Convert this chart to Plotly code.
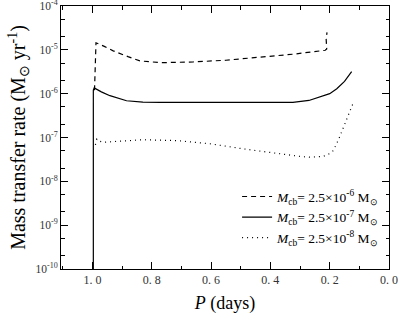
import plotly.graph_objects as go

# data (P in days, mass transfer rate in Msun/yr)
dash_P = [0.993, 0.988, 0.96, 0.93, 0.88, 0.84, 0.77, 0.66, 0.55, 0.435, 0.32, 0.215, 0.210, 0.212, 0.209]
dash_R = [1.2e-6, 1.45e-5, 1.2e-5, 9.5e-6, 7.0e-6, 5.6e-6, 5.1e-6, 5.3e-6, 5.8e-6, 6.7e-6, 8.0e-6, 9.8e-6, 1.05e-5, 1.8e-5, 2.5e-5]

solid_P = [0.997, 0.997, 0.994, 0.97, 0.941, 0.885, 0.83, 0.772, 0.5, 0.324, 0.27, 0.233, 0.2, 0.176, 0.15, 0.126]
solid_R = [1e-10, 1.2e-6, 1.35e-6, 1.1e-6, 9e-7, 6.9e-7, 6.4e-7, 6.3e-7, 6.3e-7, 6.3e-7, 7e-7, 8.3e-7, 1.0e-6, 1.3e-6, 1.9e-6, 3.2e-6]

dot_P = [0.99, 0.985, 0.975, 0.964, 0.9, 0.829, 0.716, 0.604, 0.491, 0.379, 0.3, 0.266, 0.222, 0.2, 0.188, 0.17, 0.154, 0.135, 0.12]
dot_R = [6.8e-8, 9.2e-8, 8.2e-8, 7.8e-8, 8.3e-8, 8.9e-8, 8.5e-8, 7.2e-8, 5.5e-8, 4.3e-8, 3.7e-8, 3.55e-8, 3.7e-8, 4.3e-8, 5.0e-8, 9e-8, 1.7e-7, 3.3e-7, 6.3e-7]

names = [
    "<i>M</i><sub>cb</sub>= 2.5×10<sup>-6</sup> M<sub>⊙</sub>",
    "<i>M</i><sub>cb</sub>= 2.5×10<sup>-7</sup> M<sub>⊙</sub>",
    "<i>M</i><sub>cb</sub>= 2.5×10<sup>-8</sup> M<sub>⊙</sub>",
]

x_tickvals = [1.0, 0.8, 0.6, 0.4, 0.2, 0.0]
x_ticktext = ["1. 0", "0. 8", "0. 6", "0. 4", "0. 2", "0. 0"]
y_tickvals = [1e-4, 1e-5, 1e-6, 1e-7, 1e-8, 1e-9, 1e-10]
y_ticktext = ["10<sup>-4</sup>", "10<sup>-5</sup>", "10<sup>-6</sup>", "10<sup>-7</sup>",
              "10<sup>-8</sup>", "10<sup>-9</sup>", "10<sup>-10</sup>"]

fig = go.Figure()
fig.add_trace(go.Scatter(x=dash_P, y=dash_R, mode="lines", name=names[0],
                         line=dict(color="black", width=1.2, dash="5px,4px")))
fig.add_trace(go.Scatter(x=solid_P, y=solid_R, mode="lines", name=names[1],
                         line=dict(color="black", width=1.2)))
fig.add_trace(go.Scatter(x=dot_P, y=dot_R, mode="lines", name=names[2],
                         line=dict(color="black", width=1.2, dash="1px,4px")))

serif = "Liberation Serif"
fig.update_layout(
    template="none",
    width=400, height=318,
    margin=dict(l=61, r=11, t=6, b=49),
    plot_bgcolor="white", paper_bgcolor="white",
    font=dict(family=serif, color="black"),
    showlegend=True,
    legend=dict(x=0.985, y=0.06, xanchor="right", yanchor="bottom",
                bgcolor="rgba(0,0,0,0)", font=dict(size=13.5, family=serif),
                tracegroupgap=0, itemwidth=30),
)
fig.update_xaxes(
    range=[1.106, 0.0], tickvals=x_tickvals, ticktext=x_ticktext,
    ticks="inside", ticklen=7, tickcolor="black", tickwidth=1.3,
    minor=dict(ticks="inside", ticklen=3.5, tickcolor="black", tickwidth=1.3, dtick=0.1, showgrid=False),
    showline=True, linecolor="black", linewidth=1, mirror="allticks",
    showgrid=False, zeroline=False, ticklabeloverflow="allow",
    tickfont=dict(size=12, color="#333", family=serif),
    title=dict(text="<i>P</i> (days)", font=dict(size=18, family=serif), standoff=9),
)
fig.update_yaxes(
    type="log", range=[-10.001, -3.999], tickvals=y_tickvals, ticktext=y_ticktext,
    ticks="inside", ticklen=7, tickcolor="black", tickwidth=1.3,
    minor=dict(ticks="inside", ticklen=3.5, tickcolor="black", tickwidth=1.3, showgrid=False),
    showline=True, linecolor="black", linewidth=1, mirror="allticks",
    showgrid=False, zeroline=False, ticklabeloverflow="allow",
    tickfont=dict(size=11.5, color="#333", family=serif),
    title=dict(text="Mass transfer rate (M<sub>⊙</sub> yr<sup>-1</sup>)",
               font=dict(size=20, family=serif), standoff=4),
)
fig.write_html("out.html")
